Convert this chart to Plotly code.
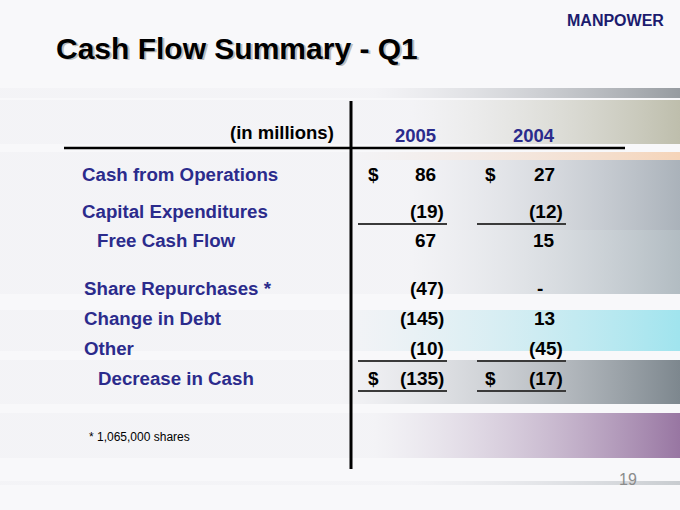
import plotly.graph_objects as go

# table data
row_labels = ["Cash from Operations", "Capital Expenditures", "Free Cash Flow",
              "Share Repurchases *", "Change in Debt", "Other", "Decrease in Cash"]
vals_2005 = [86, -19, 67, -47, -145, -10, -135]
vals_2004 = [27, -12, 15, None, 13, -45, -17]
years = ["2005", "2004"]
dollar_rows = [0, 6]      # rows with a $ sign
underline_rows = [1, 5, 6]  # rows with a rule under the figures

# layout bits (pixel coords, y down)
row_y = [174, 211, 240, 288, 318, 348, 378]
label_x = [80, 80, 95, 82, 82, 82, 96]
col_right = [446, 565]
col_dollar = [373, 490]

BLUE = "#2b2b8c"
FONT = "Liberation Sans, Arial, sans-serif"

fig = go.Figure()

# background stripes with a gradient towards the right edge
bands = [
    (88, 98, "rgba(150,155,160,1)", 0.55),
    (100, 144, "rgba(190,190,172,1)", 0.6),
    (152, 160, "rgba(245,212,185,1)", 0.5),
    (160, 230, "rgba(170,178,186,1)", 0.6),
    (230, 294, "rgba(178,188,194,1)", 0.6),
    (310, 351, "rgba(160,228,238,1)", 0.5),
    (360, 404, "rgba(125,135,142,1)", 0.5),
    (413, 458, "rgba(152,118,162,1)", 0.55),
    (481, 485, "rgba(200,204,208,1)", 0.6),
]
for y0, y1, col, start in bands:
    fig.add_trace(go.Scatter(
        x=[0, 680, 680, 0, 0], y=[y0, y0, y1, y1, y0],
        mode="lines", line=dict(width=0), fill="toself",
        fillgradient=dict(type="horizontal",
                          colorscale=[[0, "rgba(238,238,242,0.45)"], [start, "rgba(238,238,242,0.45)"], [1, col]]),
        hoverinfo="skip", showlegend=False))

shapes = []
# rules
shapes.append(dict(type="line", x0=351, x1=351, y0=101, y1=469, line=dict(color="black", width=3)))
shapes.append(dict(type="line", x0=64, x1=625, y0=148, y1=148, line=dict(color="black", width=2.5)))
for r in underline_rows:
    yy = row_y[r] + 13
    for c in range(2):
        shapes.append(dict(type="line", x0=col_right[c] - 88, x1=col_right[c] + 1, y0=yy, y1=yy,
                           line=dict(color="#3a3a3a", width=2)))

ann = []
# title with soft shadow
ann.append(dict(x=55.5, y=49.5, text="<b>Cash Flow Summary - Q1</b>", showarrow=False,
                xanchor="left", yanchor="middle", font=dict(size=30, color="#bdbdbd", family=FONT)))
ann.append(dict(x=54, y=48, text="<b>Cash Flow Summary - Q1</b>", showarrow=False,
                xanchor="left", yanchor="middle", font=dict(size=30, color="black", family=FONT)))
# logo
ann.append(dict(x=666, y=20, text="<b>MANPOWER</b>", showarrow=False, xanchor="right", yanchor="middle",
                font=dict(size=16, color="#1c1c6e", family="Liberation Sans Narrow, Arial Narrow, " + FONT)))

# header
ann.append(dict(x=336, y=132, text="<b>(in millions)</b>", showarrow=False, xanchor="right",
                yanchor="middle", font=dict(size=18.5, color="black", family=FONT)))
for c, yr in enumerate(years):
    ann.append(dict(x=col_right[c] - 31, y=135, text="<b>" + yr + "</b>", showarrow=False,
                    xanchor="center", yanchor="middle", font=dict(size=18.5, color=BLUE, family=FONT)))

# rows
for i, lab in enumerate(row_labels):
    ann.append(dict(x=label_x[i], y=row_y[i], text="<b>" + lab + "</b>", showarrow=False,
                    xanchor="left", yanchor="middle", font=dict(size=18.7, color=BLUE, family=FONT)))
    for c, vals in enumerate([vals_2005, vals_2004]):
        v = vals[i]
        if v is None:
            txt, x, xa = "-", col_right[c] - 25, "center"
        elif v < 0:
            txt, x, xa = "(%d)" % -v, col_right[c], "right"
        else:
            txt, x, xa = "%d" % v, col_right[c] - 8, "right"
        ann.append(dict(x=x, y=row_y[i], text="<b>" + txt + "</b>", showarrow=False, xanchor=xa,
                        yanchor="middle", font=dict(size=19, color="black", family=FONT)))
        if i in dollar_rows:
            ann.append(dict(x=col_dollar[c], y=row_y[i], text="<b>$</b>", showarrow=False,
                            xanchor="center", yanchor="middle", font=dict(size=19, color="black", family=FONT)))

# footnote and page number
ann.append(dict(x=87, y=437, text="* 1,065,000 shares", showarrow=False, xanchor="left", yanchor="middle",
                font=dict(size=12, color="black", family=FONT)))
ann.append(dict(x=639, y=479, text="19", showarrow=False, xanchor="right", yanchor="middle",
                font=dict(size=16, color="#8c8c8c", family=FONT)))

fig.update_layout(
    width=680, height=510, margin=dict(l=0, r=0, t=0, b=0),
    paper_bgcolor="#fbfbfc", plot_bgcolor="#f8f8fa",
    xaxis=dict(range=[0, 680], visible=False, fixedrange=True),
    yaxis=dict(range=[510, 0], visible=False, fixedrange=True),
    shapes=shapes, annotations=ann, showlegend=False,
)

fig.write_html("out.html", config={"displayModeBar": False},
               post_script="document.body.style.margin='0';")
